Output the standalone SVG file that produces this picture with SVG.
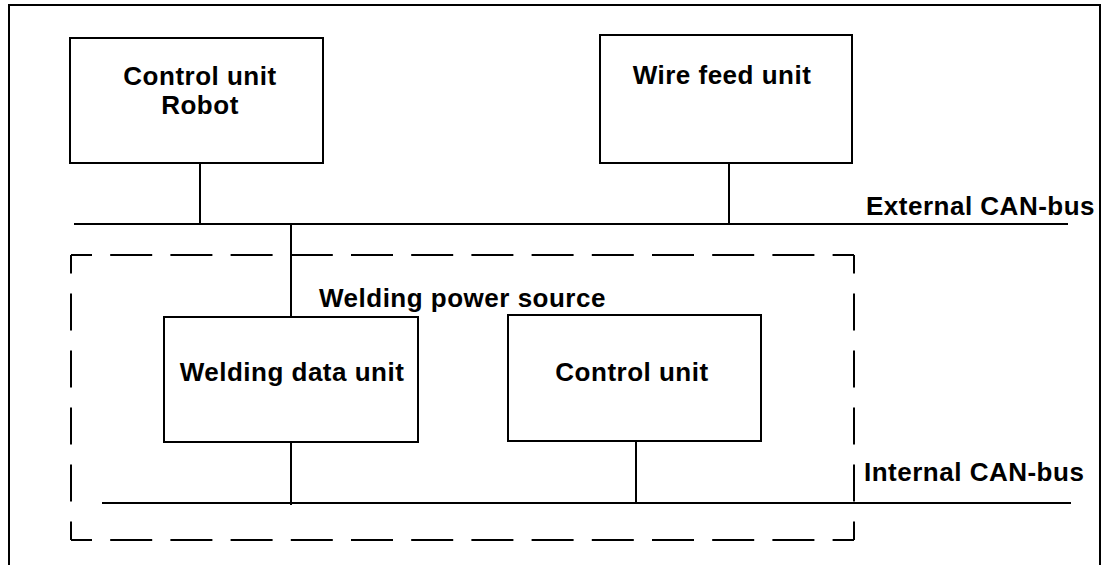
<svg xmlns="http://www.w3.org/2000/svg" width="1105" height="565" viewBox="0 0 1105 565">
  <style>
    .box { fill: #fff; stroke: #000; stroke-width: 2; }
    .wire { fill: none; stroke: #000; stroke-width: 2; }
    .dash { fill: none; stroke: #000; stroke-width: 2; }
    .lbl { font-family: "Liberation Sans", Arial, sans-serif; font-weight: bold; font-size: 26px; letter-spacing: 0.5px; fill: #000; }
    .mid { text-anchor: middle; }
  </style>
  <rect width="1105" height="565" fill="#fff"/>

  <!-- outer frame (open at the bottom) -->
  <path class="wire" d="M9,565 V5 H1100 V565"/>

  <!-- welding power source enclosure -->
  <g id="power-source">
    <line class="dash" x1="71" y1="255" x2="854" y2="255" stroke-dasharray="42 18.2" stroke-dashoffset="21"/>
    <line class="dash" x1="71" y1="540" x2="854" y2="540" stroke-dasharray="42 18.2" stroke-dashoffset="21"/>
    <line class="dash" x1="71" y1="255" x2="71" y2="540" stroke-dasharray="37 20" stroke-dashoffset="18.5"/>
    <line class="dash" x1="854" y1="255" x2="854" y2="540" stroke-dasharray="37 20" stroke-dashoffset="18.5"/>
    <text class="lbl" x="319" y="307">Welding power source</text>
  </g>

  <!-- bus lines and drops -->
  <g id="connectors">
    <line class="wire" x1="74" y1="224" x2="1068" y2="224"/>
    <line class="wire" x1="102" y1="503" x2="1071" y2="503"/>
    <line class="wire" x1="200" y1="163" x2="200" y2="224"/>
    <line class="wire" x1="729" y1="163" x2="729" y2="224"/>
    <line class="wire" x1="291" y1="224" x2="291" y2="317"/>
    <line class="wire" x1="291" y1="442" x2="291" y2="505"/>
    <line class="wire" x1="636" y1="441" x2="636" y2="503"/>
  </g>

  <g id="bus-labels">
    <text class="lbl" x="866" y="215">External CAN-bus</text>
    <text class="lbl" x="864" y="481">Internal CAN-bus</text>
  </g>

  <g id="robot-control">
    <rect class="box" x="70" y="38" width="253" height="125"/>
    <text class="lbl mid" x="200" y="85">Control unit</text>
    <text class="lbl mid" x="200" y="114">Robot</text>
  </g>

  <g id="wire-feed">
    <rect class="box" x="600" y="35" width="252" height="128"/>
    <text class="lbl mid" x="722" y="84">Wire feed unit</text>
  </g>

  <g id="welding-data">
    <rect class="box" x="164" y="317" width="254" height="125"/>
    <text class="lbl mid" x="292" y="381">Welding data unit</text>
  </g>

  <g id="control-unit">
    <rect class="box" x="508" y="315" width="253" height="126"/>
    <text class="lbl mid" x="632" y="381">Control unit</text>
  </g>
</svg>
